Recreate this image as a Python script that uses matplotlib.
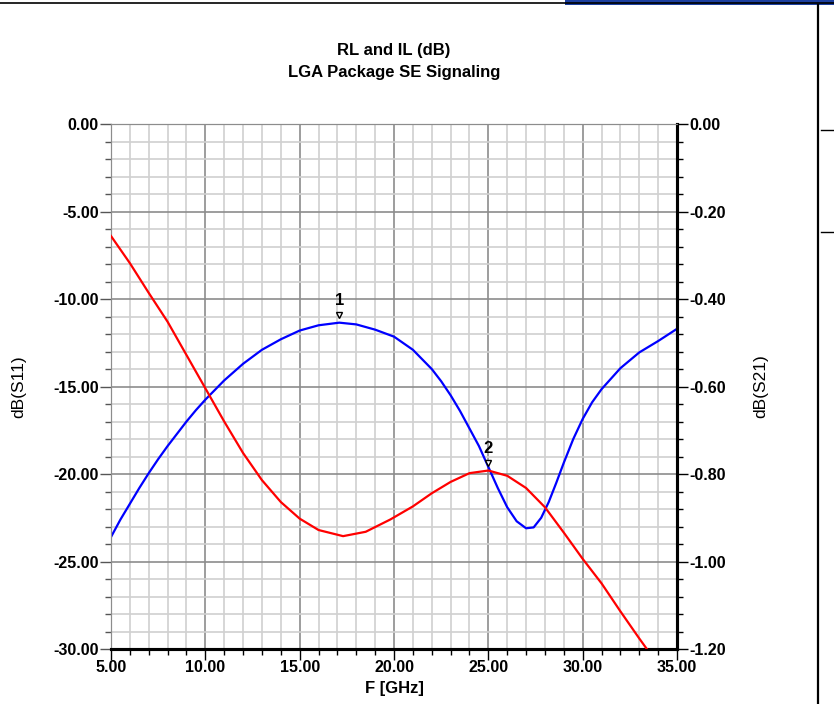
"""RL and IL plot for the LGA package (single-ended signaling)."""

import matplotlib.pyplot as plt
from matplotlib.lines import Line2D
from matplotlib.patches import Rectangle
from matplotlib.ticker import MultipleLocator, FormatStrFormatter

plt.rcParams.update({
    "font.family": ["Liberation Sans", "DejaVu Sans"],
    "font.size": 11,
    "font.weight": "bold",
})

# dB(S11), left axis
freq_s11 = [5.0, 5.5, 6.0, 6.5, 7.0, 7.5, 8.0, 8.5, 9.0, 9.5, 10.0, 11.0, 12.0,
            13.0, 14.0, 15.0, 16.0, 17.1, 18.0, 19.0, 20.0, 21.0, 22.0, 22.5,
            23.0, 23.5, 24.0, 24.5, 25.0, 25.5, 26.0, 26.5, 27.0, 27.4, 27.8,
            28.2, 28.6, 29.0, 29.5, 30.0, 30.5, 31.0, 32.0, 33.0, 34.0, 35.0]
s11_db = [-23.6, -22.6, -21.7, -20.8, -19.95, -19.15, -18.4, -17.7, -17.0, -16.35,
          -15.75, -14.65, -13.7, -12.9, -12.3, -11.8, -11.5, -11.35, -11.45, -11.75,
          -12.15, -12.9, -14.0, -14.7, -15.5, -16.4, -17.4, -18.4, -19.6, -20.8,
          -21.9, -22.7, -23.1, -23.05, -22.5, -21.6, -20.5, -19.35, -18.0, -16.85,
          -15.9, -15.15, -13.95, -13.05, -12.4, -11.7]

# dB(S21), right axis
freq_s21 = [5.0, 6.0, 7.0, 8.0, 9.0, 10.0, 11.0, 12.0, 13.0, 14.0, 15.0, 16.0,
            17.3, 18.5, 19.8, 21.0, 22.0, 23.0, 24.0, 25.0, 26.0, 27.0, 28.0,
            29.0, 30.0, 31.0, 32.0, 33.0, 33.4]
s21_db = [-0.256, -0.318, -0.386, -0.452, -0.528, -0.604, -0.680, -0.752, -0.814,
          -0.864, -0.902, -0.928, -0.942, -0.932, -0.904, -0.874, -0.844, -0.818,
          -0.798, -0.792, -0.804, -0.832, -0.876, -0.934, -0.994, -1.050, -1.114,
          -1.176, -1.200]

# markers: (label, frequency, trace value on left-axis dB scale)
marker_labels = ["1", "2"]
marker_freq = [17.1, 25.0]
marker_val = [-11.35, -19.8]

MAJOR_GRID = "#8c8c8c"
MINOR_GRID = "#d0d0d0"

fig = plt.figure(figsize=(8.34, 7.04), dpi=100)
ax = fig.add_axes([0.1331, 0.0781, 0.6787, 0.7457])
ax2 = ax.twinx()

ax.plot(freq_s11, s11_db, color="#0000ff", lw=1.6, zorder=4)
ax2.plot(freq_s21, s21_db, color="#ff0000", lw=1.6, zorder=4)

ax.set_xlim(5, 35)
ax.set_ylim(-30, 0)
ax2.set_ylim(-1.2, 0)

ax.xaxis.set_major_locator(MultipleLocator(5))
ax.xaxis.set_minor_locator(MultipleLocator(1))
ax.yaxis.set_major_locator(MultipleLocator(5))
ax.yaxis.set_minor_locator(MultipleLocator(1))
ax2.yaxis.set_major_locator(MultipleLocator(0.2))
ax2.yaxis.set_minor_locator(MultipleLocator(0.04))
ax.xaxis.set_major_formatter(FormatStrFormatter("%.2f"))
ax.yaxis.set_major_formatter(FormatStrFormatter("%.2f"))
ax2.yaxis.set_major_formatter(FormatStrFormatter("%.2f"))

ax.grid(which="minor", color=MINOR_GRID, lw=1.2, zorder=0)
ax.grid(which="major", color=MAJOR_GRID, lw=1.2, zorder=1)
ax.set_axisbelow(True)

for a in (ax, ax2):
    a.tick_params(which="major", length=8, width=1, labelsize=11.5, pad=1)
    a.tick_params(which="minor", length=4, width=1)
ax.tick_params(axis="y", which="both", colors="#555555", labelcolor="black")
ax.tick_params(axis="x", which="both", colors="black", labelcolor="black", pad=0)

for a in (ax, ax2):
    a.spines["bottom"].set_linewidth(2.2)
    a.spines["right"].set_linewidth(2.2)
    a.spines["left"].set_color(MAJOR_GRID)
    a.spines["top"].set_color(MAJOR_GRID)

ax.set_xlabel("F [GHz]", fontsize=12, fontweight="bold", labelpad=4)
ax.set_ylabel("dB(S11)", fontsize=12.5, fontweight="normal")
ax2.set_ylabel("dB(S21)", fontsize=12.5, fontweight="normal")
ax.yaxis.set_label_coords(-0.150, 0.5)
ax2.yaxis.set_label_coords(1.134, 0.5)

for lab, f, v in zip(marker_labels, marker_freq, marker_val):
    ax.plot(f, v + 0.45, marker="v", ms=5, mfc="white", mec="black", mew=1.0, zorder=6)
    ax.text(f, v + 0.85, lab, ha="center", va="bottom", fontsize=12,
            fontweight="bold", zorder=6)

title_x = 0.1331 + 0.6787 / 2
fig.text(title_x, 0.928, "RL and IL (dB)", ha="center", va="center", fontsize=12)
fig.text(title_x, 0.897, "LGA Package SE Signaling", ha="center", va="center", fontsize=12)

# window frame around the plot
fig.add_artist(Line2D([0, 1], [0.996, 0.996], color="black", lw=1.2))
fig.add_artist(Rectangle((0.677, 0.993), 0.323, 0.007, color="#1c3fa0", lw=0))
fig.add_artist(Line2D([0.981, 0.981], [0, 0.993], color="black", lw=1.6))
fig.add_artist(Line2D([0.984, 1.0], [0.815, 0.815], color="black", lw=1.0))
fig.add_artist(Line2D([0.984, 1.0], [0.67, 0.67], color="black", lw=1.0))

fig.savefig("out.png", dpi=100)
